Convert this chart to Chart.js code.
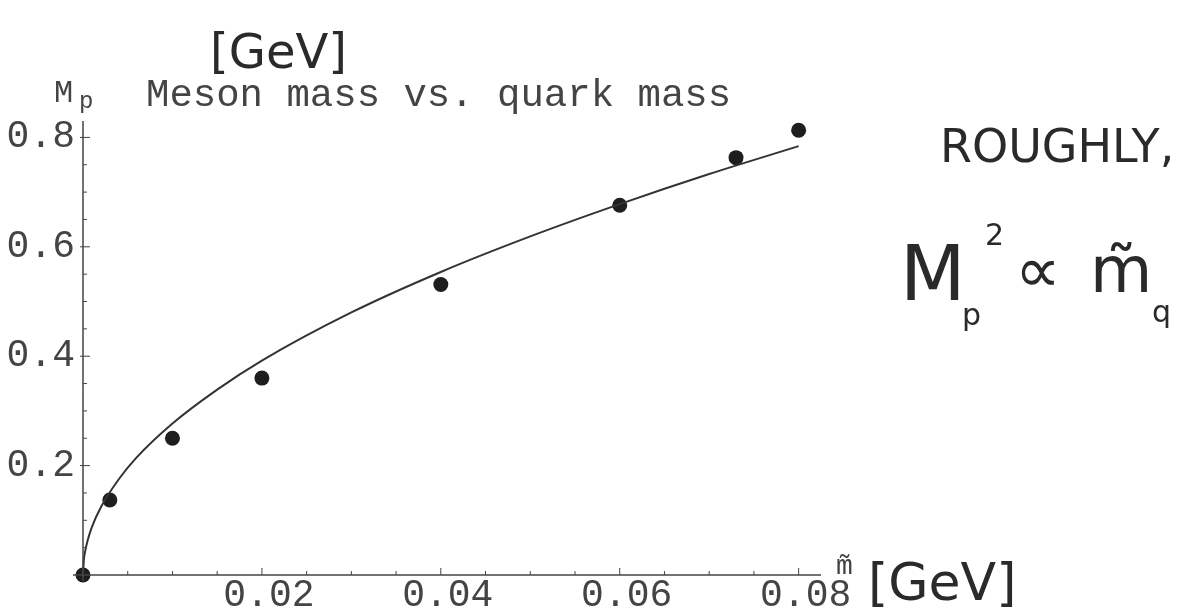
<!DOCTYPE html>
<html>
<head>
<meta charset="utf-8">
<script src="https://cdn.jsdelivr.net/npm/chart.js@4"></script>
<style>
  html, body { margin: 0; padding: 0; background: #fff; }
  #wrap { width: 1197px; height: 613px; position: relative; }
</style>
</head>
<body>
<div id="wrap"><canvas id="chart" width="1197" height="613"></canvas></div>
<script>
// measured meson masses (dots)
const quarkMass = [0, 0.003, 0.01, 0.02, 0.04, 0.06, 0.073, 0.08];
const mesonMass = [0, 0.137, 0.250, 0.360, 0.531, 0.676, 0.763, 0.813];

// fitted curve
const fitX = [0, 0.0001, 0.00025, 0.0005, 0.001, 0.002, 0.004, 0.006, 0.01, 0.015, 0.02, 0.03, 0.04, 0.05, 0.06, 0.07, 0.08];
const fitY = [0, 0.028, 0.044, 0.062, 0.088, 0.124, 0.175, 0.215, 0.277, 0.339, 0.392, 0.480, 0.554, 0.619, 0.678, 0.733, 0.784];

const xTickLabels = ['0.02', '0.04', '0.06', '0.08'];
const yTickLabels = ['0.2', '0.4', '0.6', '0.8'];

const monoFont = "'Liberation Mono', 'DejaVu Sans Mono', monospace";
const handFont = "'DejaVu Sans', sans-serif";
const ink = '#2a2a2a';

// axes with inward ticks, like the old plot
const axesPlugin = {
  id: 'oldAxes',
  afterDatasetsDraw(chart) {
    const ctx = chart.ctx;
    const xs = chart.scales.x, ys = chart.scales.y;
    const x0 = xs.getPixelForValue(0), y0 = ys.getPixelForValue(0);
    ctx.save();
    ctx.strokeStyle = '#444';
    ctx.lineWidth = 1.5;
    ctx.beginPath();
    ctx.moveTo(x0 - 10, y0); ctx.lineTo(xs.right, y0);
    ctx.moveTo(x0, y0 + 6); ctx.lineTo(x0, ys.top);
    ctx.stroke();
    ctx.lineWidth = 1;
    ctx.beginPath();
    for (let v = 0.005; v <= 0.0801; v += 0.005) {
      const p = xs.getPixelForValue(v);
      const major = Math.abs(v / 0.02 - Math.round(v / 0.02)) < 1e-6;
      ctx.moveTo(p, y0); ctx.lineTo(p, y0 - (major ? 7 : 4));
    }
    for (let v = 0.05; v <= 0.8001; v += 0.05) {
      const p = ys.getPixelForValue(v);
      const major = Math.abs(v / 0.2 - Math.round(v / 0.2)) < 1e-6;
      ctx.moveTo(major ? x0 - 3 : x0, p); ctx.lineTo(x0 + (major ? 7 : 4), p);
    }
    ctx.stroke();

    ctx.fillStyle = '#444';
    ctx.font = '38px ' + monoFont;
    ctx.textBaseline = 'middle';
    ctx.textAlign = 'right';
    yTickLabels.forEach(t => {
      ctx.fillText(t, x0 - 8, ys.getPixelForValue(parseFloat(t)));
    });
    ctx.textAlign = 'center';
    ctx.textBaseline = 'top';
    xTickLabels.forEach(t => {
      ctx.fillText(t, xs.getPixelForValue(parseFloat(t)) + 7, y0 + 2);
    });
    ctx.restore();
  }
};

// title and the handwritten notes
const notesPlugin = {
  id: 'notes',
  afterDraw(chart) {
    const ctx = chart.ctx;
    ctx.save();
    ctx.fillStyle = '#444';
    ctx.textBaseline = 'alphabetic';
    ctx.textAlign = 'left';
    ctx.font = '39px ' + monoFont;
    ctx.fillText('Meson mass vs. quark mass', 146, 106);
    ctx.font = '32px ' + monoFont;
    ctx.fillText('M', 54, 102);
    ctx.font = '24px ' + monoFont;
    ctx.fillText('p', 79, 108);
    ctx.font = '28px ' + monoFont;
    ctx.fillText('m\u0303', 836, 574);

    ctx.fillStyle = ink;
    ctx.font = '48px ' + handFont;
    ctx.fillText('[GeV]', 210, 68);
    ctx.font = '52px ' + handFont;
    ctx.fillText('[GeV]', 868, 600);
    ctx.font = '46px ' + handFont;
    ctx.fillText('ROUGHLY,', 940, 162);
    ctx.font = '76px ' + handFont;
    ctx.fillText('M', 900, 300);
    ctx.font = '30px ' + handFont;
    ctx.fillText('2', 985, 245);
    ctx.fillText('p', 962, 325);
    ctx.fillText('q', 1152, 322);
    ctx.font = '64px ' + handFont;
    ctx.fillText('\u221D', 1015, 292);
    ctx.fillText('m\u0303', 1090, 292);
    ctx.restore();
  }
};

const ctx = document.getElementById('chart').getContext('2d');
new Chart(ctx, {
  type: 'scatter',
  data: {
    datasets: [
      {
        label: 'fit',
        data: fitX.map((x, i) => ({ x: x, y: fitY[i] })),
        showLine: true,
        borderColor: '#333',
        borderWidth: 2,
        pointRadius: 0,
        cubicInterpolationMode: 'monotone',
        clip: false
      },
      {
        label: 'meson mass',
        data: quarkMass.map((x, i) => ({ x: x, y: mesonMass[i] })),
        showLine: false,
        pointRadius: 7.5,
        backgroundColor: '#1e1e1e',
        borderWidth: 0,
        clip: false
      }
    ]
  },
  plugins: [axesPlugin, notesPlugin],
  options: {
    responsive: false,
    animation: false,
    devicePixelRatio: 1,
    layout: { padding: { left: 83, right: 376, top: 121, bottom: 38 } },
    plugins: {
      legend: { display: false },
      tooltip: { enabled: false }
    },
    scales: {
      x: {
        type: 'linear',
        min: 0,
        max: 0.0825,
        display: false
      },
      y: {
        type: 'linear',
        min: 0,
        max: 0.83,
        display: false
      }
    }
  }
});
</script>
</body>
</html>
